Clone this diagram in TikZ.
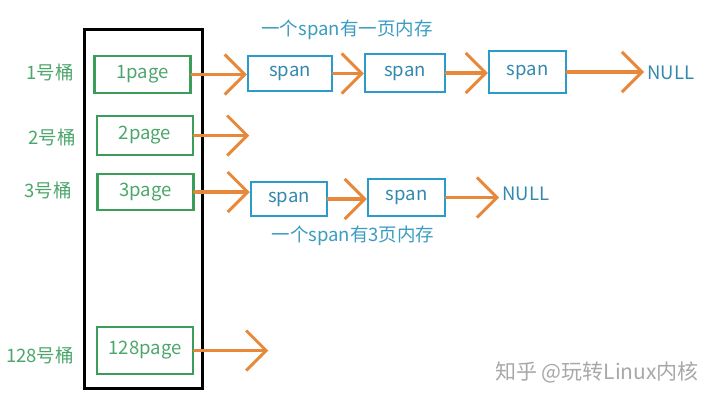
\documentclass[tikz,border=0pt]{standalone}
\usepackage{fontspec}
\setmainfont{Noto Sans CJK SC}
\usepackage{tikz}
\usetikzlibrary{arrows.meta, positioning}
\definecolor{bucketgreen}{HTML}{3A9E5A}
\definecolor{bucketlabel}{HTML}{4CA66B}
\definecolor{spanblue}{HTML}{2B9BCA}
\definecolor{spantext}{HTML}{3388AE}
\definecolor{notetext}{HTML}{3A9CC0}
\definecolor{linkorange}{HTML}{E8883A}
\definecolor{markgray}{HTML}{A8A8A8}
\tikzset{
    pagebox/.style={
        rectangle, draw=bucketgreen, line width=2.5pt,
        minimum width=96pt, minimum height=37pt,
        text=bucketlabel, font=\fontsize{18.5}{22}\selectfont
    },
    spanbox/.style={
        rectangle, draw=spanblue, line width=2.5pt,
        minimum width=80pt, minimum height=36pt,
        text=spantext, font=\fontsize{18.5}{22}\selectfont
    },
    bucketlab/.style={
        text=bucketlabel, font=\fontsize{18.5}{22}\selectfont
    },
    nulllab/.style={
        text=spantext, font=\fontsize{18.5}{22}\selectfont
    },
    notelab/.style={
        text=notetext, font=\fontsize{18.5}{22}\selectfont
    },
    linkarrow/.style={
        -{Straight Barb[length=20pt, width=40pt, line width=3pt]}, line width=3.3pt,
        color=linkorange, line cap=round
    },
}

\begin{document}
\begin{tikzpicture}[x=1pt, y=-1pt]
    \useasboundingbox (0,0) rectangle (720,402);

    % bucket array
    \node[draw=black, line width=3pt, minimum width=118pt, minimum height=359pt] (buckets) at (143,208.5) {};

    \node[pagebox] (p1) at (142.5,74.5) {1page};
    \node[pagebox, minimum height=39pt] (p2) at (145,135.5) {2page};
    \node[pagebox, minimum height=36pt] (p3) at (145.5,192) {3page};
    \node[pagebox, minimum height=47pt] (p128) at (145,350.5) {128page};

    \node[bucketlab] (l1) at (50,72) {1号桶};
    \node[bucketlab] (l2) at (52,137) {2号桶};
    \node[bucketlab] (l3) at (48,190) {3号桶};
    \node[bucketlab] (l128) at (40,355) {128号桶};

    % span list of bucket 1
    \node[spanbox, minimum width=84pt, minimum height=35pt] (s1) at (290,73.5) {span};
    \node[spanbox, minimum height=38pt] (s2) at (405,73) {span};
    \node[spanbox, minimum width=77pt, minimum height=42pt] (s3) at (527.5,72) {span};
    \node[nulllab] (n1) at (671,73) {NULL};
    \node[notelab] (c1) at (347,30) {一个span有一页内存};

    % span list of bucket 3
    \node[spanbox, minimum width=76pt, minimum height=34pt] (s4) at (289,199) {span};
    \node[spanbox, minimum width=77pt, minimum height=37pt] (s5) at (406.5,197.5) {span};
    \node[nulllab] (n3) at (526,194) {NULL};
    \node[notelab] (c3) at (353,236) {一个span有3页内存};

    \coordinate (e2) at ([xshift=55pt]p2.east);
    \coordinate (e128) at ([xshift=74pt]p128.east);

    \draw[linkarrow] (p1.east) -- (p1.east -| s1.west);
    \draw[linkarrow] (s1.east) -- (s1.east -| s2.west);
    \draw[linkarrow] (s2.east) -- (s2.east -| s3.west);
    \draw[linkarrow] (s3.east) -- (s3.east -| n1.west);
    \draw[linkarrow] (p2.east) -- (e2);
    \draw[linkarrow] (p3.east) -- (p3.east -| s4.west);
    \draw[linkarrow] (s4.east) -- (s4.east -| s5.west);
    \draw[linkarrow] (s5.east) -- (s5.east -| n3.west);
    \draw[linkarrow] (p128.east) -- (e128);

    \node[text=markgray, font=\fontsize{21}{24}\selectfont] (mark) at (597,372) {知乎 @玩转Linux内核};
\end{tikzpicture}
\end{document}
